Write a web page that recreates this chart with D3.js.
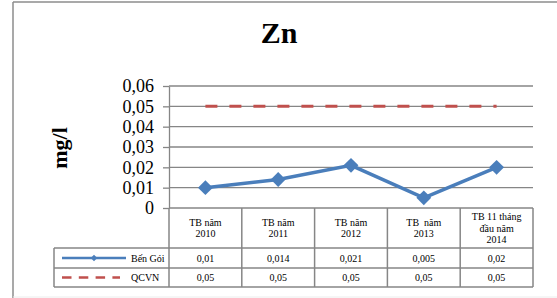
<!DOCTYPE html>
<html>
<head>
<meta charset="utf-8">
<script src="https://cdn.jsdelivr.net/npm/d3@7"></script>
<style>
  body { margin: 0; background: #fff; }
  svg text { font-family: "Times New Roman", "Liberation Serif", serif; }
</style>
</head>
<body>
<svg id="chart"></svg>
<script>
// data
const categories = ["TB năm\n2010", "TB năm\n2011", "TB năm\n2012", "TB  năm\n2013", "TB 11 tháng\nđầu năm\n2014"];
const benGoi = [0.01, 0.014, 0.021, 0.005, 0.02];
const qcvn = [0.05, 0.05, 0.05, 0.05, 0.05];
const benGoiLabels = ["0,01", "0,014", "0,021", "0,005", "0,02"];
const qcvnLabels = ["0,05", "0,05", "0,05", "0,05", "0,05"];
const yTicks = [0, 0.01, 0.02, 0.03, 0.04, 0.05, 0.06];

const width = 557, height = 298;
const blue = "#4a7ebb", red = "#c0504d", grey = "#868686";
const serif = "'Times New Roman', 'Liberation Serif', serif";

const svg = d3.select("#chart").attr("width", width).attr("height", height);

// outer chart frame
svg.append("line").attr("x1", 13).attr("x2", 13).attr("y1", 2).attr("y2", 298)
  .attr("stroke", "#8c8c8c").attr("stroke-width", 1.5);
svg.append("line").attr("x1", 13).attr("x2", 557).attr("y1", 2).attr("y2", 2)
  .attr("stroke", "#8c8c8c").attr("stroke-width", 1.5);
svg.append("line").attr("x1", 13).attr("x2", 557).attr("y1", 297).attr("y2", 297)
  .attr("stroke", "#ececec").attr("stroke-width", 1);

// title
svg.append("text").text("Zn")
  .attr("x", 279).attr("y", 43)
  .attr("text-anchor", "middle")
  .style("font-family", serif)
  .style("font-size", "30px").style("font-weight", "bold");

// scales
const x = d3.scaleBand().domain(categories).range([169, 533]).padding(0);
const y = d3.scaleLinear().domain([0, 0.06]).range([208, 86]);
const cx = (d, i) => x(categories[i]) + x.bandwidth() / 2;

// gridlines
svg.append("g").selectAll("line")
  .data(yTicks.filter(d => d > 0))
  .enter().append("line")
  .attr("x1", 169).attr("x2", 533)
  .attr("y1", d => y(d)).attr("y2", d => y(d))
  .attr("stroke", grey).attr("stroke-width", 1.3);

// y axis
const fmt = d => d === 0 ? "0" : d3.format(".2f")(d).replace(".", ",");
const yAxis = svg.append("g")
  .attr("transform", "translate(169,0)")
  .call(d3.axisLeft(y).tickValues(yTicks).tickFormat(fmt).tickSize(6).tickSizeOuter(0).tickPadding(9));
yAxis.attr("font-family", serif);
yAxis.select(".domain").attr("stroke", grey).attr("stroke-width", 1.3);
yAxis.selectAll(".tick line").attr("stroke", grey).attr("stroke-width", 1.3);
yAxis.selectAll(".tick text")
  .style("font-family", serif)
  .style("font-size", "18px").attr("fill", "#000");

// y axis title
svg.append("text").text("mg/l")
  .attr("transform", "translate(67,148) rotate(-90)")
  .attr("text-anchor", "middle")
  .style("font-family", serif)
  .style("font-size", "22px").style("font-weight", "bold");

// QCVN dashed line
svg.append("path")
  .datum(qcvn)
  .attr("d", d3.line().x(cx).y(d => y(d)))
  .attr("fill", "none").attr("stroke", red)
  .attr("stroke-width", 3).attr("stroke-dasharray", "12,12");

// Bến Gói line + markers
svg.append("path")
  .datum(benGoi)
  .attr("d", d3.line().x(cx).y(d => y(d)))
  .attr("fill", "none").attr("stroke", blue).attr("stroke-width", 3.5);

svg.append("g").selectAll("path")
  .data(benGoi)
  .enter().append("path")
  .attr("d", d3.symbol().type(d3.symbolSquare).size(110))
  .attr("transform", (d, i) => `translate(${cx(d, i)},${y(d)}) rotate(45)`)
  .attr("fill", blue);

// data table
const tableTop = 208, headBottom = 248, row1Bottom = 268, row2Bottom = 287;
const legendLeft = 54;
const tline = (x1, y1, x2, y2) => svg.append("line")
  .attr("x1", x1).attr("y1", y1).attr("x2", x2).attr("y2", y2)
  .attr("stroke", grey).attr("stroke-width", 1.5);

tline(169, tableTop, 533, tableTop);
tline(169, headBottom, 533, headBottom);
tline(legendLeft, headBottom, 169, headBottom);
tline(legendLeft, row1Bottom, 533, row1Bottom);
tline(legendLeft, row2Bottom, 533, row2Bottom);
tline(legendLeft, headBottom, legendLeft, row2Bottom);
categories.forEach(c => tline(x(c), tableTop, x(c), row2Bottom));
tline(533, tableTop, 533, row2Bottom);

// header labels
categories.forEach(c => {
  const lines = c.split("\n");
  const mid = (tableTop + headBottom) / 2;
  const lh = 11.5;
  const t = svg.append("text")
    .attr("text-anchor", "middle")
    .style("font-family", serif)
    .style("font-size", "10px");
  lines.forEach((l, j) => {
    t.append("tspan")
      .attr("x", x(c) + x.bandwidth() / 2)
      .attr("y", mid + (j - (lines.length - 1) / 2) * lh + 3.5)
      .attr("xml:space", "preserve")
      .text(l);
  });
});

// value rows
const rows = [
  { name: "Bến Gói", labels: benGoiLabels, y: (headBottom + row1Bottom) / 2 },
  { name: "QCVN", labels: qcvnLabels, y: (row1Bottom + row2Bottom) / 2 }
];
rows.forEach(r => {
  svg.append("g").selectAll("text")
    .data(r.labels)
    .enter().append("text")
    .text(d => d)
    .attr("x", (d, i) => x(categories[i]) + x.bandwidth() / 2)
    .attr("y", r.y + 3.5)
    .attr("text-anchor", "middle")
    .style("font-family", serif)
    .style("font-size", "10px");
  svg.append("text").text(r.name)
    .attr("x", 131).attr("y", r.y + 3.5)
    .style("font-family", serif)
    .style("font-size", "10px");
});

// legend keys
svg.append("line").attr("x1", 62).attr("x2", 126)
  .attr("y1", rows[0].y).attr("y2", rows[0].y)
  .attr("stroke", blue).attr("stroke-width", 2.5);
svg.append("path")
  .attr("d", d3.symbol().type(d3.symbolSquare).size(22))
  .attr("transform", `translate(94,${rows[0].y}) rotate(45)`)
  .attr("fill", blue);
svg.append("line").attr("x1", 62).attr("x2", 120)
  .attr("y1", rows[1].y).attr("y2", rows[1].y)
  .attr("stroke", red).attr("stroke-width", 2.5)
  .attr("stroke-dasharray", "9.5,7.3");
</script>
</body>
</html>
